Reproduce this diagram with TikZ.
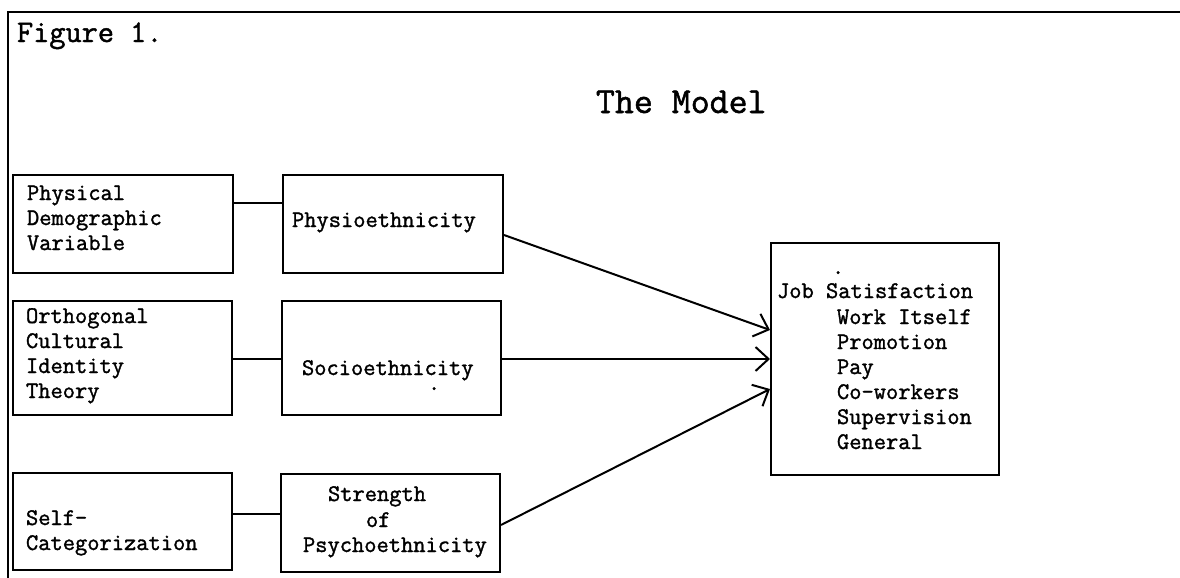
\documentclass[tikz,border=0pt]{standalone}
\usepackage{fontspec}
\setmainfont{Latin Modern Mono}[FakeBold=1.4]
\usetikzlibrary{arrows.meta}
\begin{document}
\begin{tikzpicture}[x=0.5pt,y=-0.5pt,line width=1pt,
  box/.style={draw,line width=1pt,inner sep=0pt,minimum width=110pt},
  lbl/.style={anchor=base west,inner sep=0pt,font=\fontsize{11.9}{12.5}\selectfont},
  conn/.style={line width=1pt},
  arr/.style={line width=1pt,-{Straight Barb[length=6.5pt,width=12pt,line width=1pt]}}]
\useasboundingbox (0,0) rectangle (1180,578);
% frame
\draw[line width=1pt] (1180,12) -- (8,12) -- (8,578);
% titles
\node[anchor=base west,inner sep=0pt,font=\fontsize{15.7}{18}\selectfont] (fig) at (16,42) {Figure 1.};
\node[anchor=base west,inner sep=0pt,font=\fontsize{18.4}{21}\selectfont] (title) at (595,113) {The Model};
% boxes
\node[box,minimum height=49pt] (b1) at (123,224) {};
\node[box,minimum height=49pt] (b2) at (393,224) {};
\node[box,minimum width=109.5pt,minimum height=57pt] (b3) at (122.5,358) {};
\node[box,minimum width=109.5pt,minimum height=57pt] (b4) at (391.5,358) {};
\node[box,minimum width=109.5pt,minimum height=48.5pt] (b5) at (122.5,521.5) {};
\node[box,minimum width=109.5pt,minimum height=49pt] (b6) at (390.5,523) {};
\node[box,minimum width=114pt,minimum height=116pt] (js) at (885,359) {};
% box texts
\node[lbl] (t1a) at (26,200) {Physical};
\node[lbl] (t1b) at (26,225) {Demographic};
\node[lbl] (t1c) at (26,250) {Variable};
\node[lbl] (t2) at (291,227) {Physioethnicity};
\node[lbl] (t3a) at (25,323) {Orthogonal};
\node[lbl] (t3b) at (25,348) {Cultural};
\node[lbl] (t3c) at (25,373) {Identity};
\node[lbl] (t3d) at (25,398) {Theory};
\node[lbl] (t4) at (301,375) {Socioethnicity};
\node[lbl] (dot1) at (427,390) {.};
\node[lbl] (t5a) at (25,525) {Self-};
\node[lbl] (t5b) at (25,550) {Categorization};
\node[lbl] (t6a) at (327,501) {Strength};
\node[lbl] (t6b) at (365,527) {of};
\node[lbl] (t6c) at (302,552) {Psychoethnicity};
\node[lbl] (dot2) at (831,274) {.};
\node[lbl] (j0) at (776,298) {Job Satisfaction};
\node[lbl] (j1) at (836,324) {Work Itself};
\node[lbl] (j2) at (836,349) {Promotion};
\node[lbl] (j3) at (836,374) {Pay};
\node[lbl] (j4) at (836,399) {Co-workers};
\node[lbl] (j5) at (836,424) {Supervision};
\node[lbl] (j6) at (836,449) {General};
% connectors
\draw[conn] (b1.east |- 0,203) -- (b2.west |- 0,203);
\draw[conn] (b3.east |- 0,359) -- (b4.west |- 0,359);
\draw[conn] (b5.east |- 0,514) -- (b6.west |- 0,514);
\draw[arr] (b2.east |- 0,235) -- (js.west |- 0,330);
\draw[arr] (b4.east |- 0,359) -- (js.west |- 0,359);
\draw[arr] (b6.east |- 0,525) -- (js.west |- 0,389);
\end{tikzpicture}
\end{document}
